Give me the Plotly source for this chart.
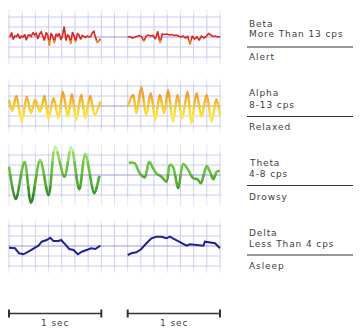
import numpy as np
import plotly.graph_objects as go

W, H = 363, 331

# ---- time base: two 1-second windows separated by a 2/7 s gap ----
GRID_STEP = 1 / 7
RIGHT_START = 9 / 7
X_END = RIGHT_START + 1

# ---- Beta (>13 cps), evenly sampled over each window ----
BETA_LEFT = [0.0, 0.45, -0.25, 0.1, 0.05, 0.3, -0.15, 0.1, 0.0, 0.25,
             -0.3, 0.15, 0.2, 0.05, 0.45, 0.2, 0.35, -0.2, 0.3, 0.5,
             0.1, -0.35, 0.45, 0.2, -0.9, 0.4, 0.05, -0.6, 0.3, 0.1,
             0.35, -0.3, 0.15, 1.05, -0.35, 0.2, 0.05, -0.7, 0.5, 0.1,
             -0.5, 0.35, 0.2, -0.25, 0.15, 0.05, -0.05, 0.1, 0.0, 0.05,
             0.4, 0.55, 0.1, -0.55, -0.45, -0.2]
BETA_RIGHT = [0.0, 0.05, -0.1, 0.0, 0.1, 0.15, 0.05, -0.45, 0.1, 0.2,
              0.1, 0.15, -0.2, 0.55, -0.6, 0.3, 0.25, 0.3, 0.2, 0.25,
              0.15, 0.2, 0.1, 0.0, 0.1, -0.1, 0.05, -0.75, 0.1, -0.2,
              0.0, -0.3, 0.1, -0.1, 0.05, 0.35, 0.2, 0.05, 0.1, 0.0, 0.05]

# ---- Alpha (8-13 cps) ----
ALPHA_LEFT_T = [0.0, 0.035, 0.08, 0.138, 0.192, 0.239, 0.283, 0.337, 0.384, 0.428,
                0.482, 0.536, 0.583, 0.638, 0.681, 0.728, 0.783, 0.826, 0.88, 0.928, 0.99]
ALPHA_LEFT_V = [0.6, -0.5, 1.0, -1.57, 0.93, -0.73, 0.6, -0.57, 1.0, -1.33,
                0.77, -1.23, 1.43, -1.07, 1.2, -1.4, 1.1, -1.23, 1.0, -0.9, 0.43]
ALPHA_RIGHT_T = [0.0, 0.058, 0.094, 0.148, 0.2, 0.25, 0.3, 0.348, 0.395, 0.438,
                 0.49, 0.54, 0.59, 0.648, 0.69, 0.746, 0.8, 0.855, 0.91, 0.96, 1.0]
ALPHA_RIGHT_V = [-0.07, 1.1, -0.73, 1.87, -0.9, 1.27, -1.4, 1.1, -0.73, 1.6,
                 -1.57, 1.1, -1.23, 1.43, -1.73, 1.27, -1.07, 1.1, -1.57, 0.67, -0.9]

# ---- Theta (4-8 cps) ----
THETA_LEFT_T = [0.0, 0.073, 0.167, 0.239, 0.337, 0.428, 0.5, 0.6, 0.674, 0.761,
                0.826, 0.924, 0.978]
THETA_LEFT_V = [0.83, -2.4, 1.33, -2.77, 1.5, -2.0, 2.83, -0.17, 2.77, -1.43,
                2.1, -1.83, -0.1]
THETA_RIGHT_T = [0.011, 0.076, 0.13, 0.185, 0.232, 0.275, 0.31, 0.366, 0.42, 0.457,
                 0.49, 0.547, 0.601, 0.656, 0.71, 0.757, 0.793, 0.855, 0.891, 0.928,
                 0.964, 1.0]
THETA_RIGHT_V = [1.23, 1.17, 0.17, -0.23, 1.33, 0.67, 0.17, -0.17, -0.67, 1.0,
                 0.83, -1.33, 1.1, 0.5, -0.33, -0.43, -0.83, 0.9, 0.33, -0.43,
                 0.33, 0.43]

# ---- Delta (<4 cps) ----
DELTA_LEFT_T = [0.0, 0.065, 0.109, 0.156, 0.21, 0.264, 0.319, 0.355, 0.409, 0.446,
                0.482, 0.536, 0.565, 0.609, 0.652, 0.699, 0.746, 0.79, 0.844, 0.891,
                0.935, 0.989]
DELTA_LEFT_V = [-0.17, -0.23, -0.73, -0.83, -0.57, -0.23, 0.03, 0.43, 0.6, 0.83,
                0.5, 0.5, 0.6, 0.17, -0.3, -0.4, -0.83, -0.57, -0.4, -0.23,
                -0.3, 0.03]
DELTA_RIGHT_T = [0.0, 0.04, 0.094, 0.148, 0.203, 0.257, 0.31, 0.366, 0.42, 0.457,
                 0.49, 0.547, 0.601, 0.638, 0.674, 0.728, 0.783, 0.82, 0.837, 0.891,
                 0.946, 1.0]
DELTA_RIGHT_V = [-0.9, -0.73, -0.63, -0.3, 0.27, 0.77, 0.93, 0.93, 0.77, 0.93,
                 0.77, 0.5, 0.27, 0.03, 0.17, 0.1, 0.03, 0.03, 0.43, 0.37,
                 0.27, -0.23]

# ---- labels ----
WAVE_NAMES = ["Beta", "Alpha", "Theta", "Delta"]
WAVE_FREQS = ["More Than 13 cps", "8-13 cps", "4-8 cps", "Less Than 4 cps"]
WAVE_STATES = ["Alert", "Relaxed", "Drowsy", "Asleep"]
SCALE_LABEL = "1 sec"

# ---- grid ----
GRID_X = [k * GRID_STEP for k in range(17)]
GRID_Y = [-2, -1, 0, 1, 2]

# ---- geometry (pixels) ----
X_LEFT_PX, X_RIGHT_PX = 9, 220
PX_PER_SEC = (X_RIGHT_PX - X_LEFT_PX) / X_END
UNIT_PX = 10
PAD = 0.01
X_RANGE = [-PAD, X_END + PAD]
X_DOMAIN = [(X_LEFT_PX - PAD * PX_PER_SEC) / W, (X_RIGHT_PX + PAD * PX_PER_SEC) / W]

GRID_COLOR = "#cbccf3"
GRID_FADE = "#e6e6f9"
CENTER_COLOR = "#9a9ae6"


def even_t(n):
    return list(np.linspace(0.01, 0.99, n))


panels = [
    dict(center=37, half=2.7, width=1.6, shape="linear",
         segs=[(even_t(len(BETA_LEFT)), BETA_LEFT),
               (list(np.linspace(0.0, 1.0, len(BETA_RIGHT))), BETA_RIGHT)],
         bands=[(0.6, 9, "#a8421e"), (-0.35, 0.6, "#e2241b"), (-9, -0.35, "#f0801e")]),
    dict(center=106, half=2.7, width=2.4, shape="spline",
         segs=[(ALPHA_LEFT_T, ALPHA_LEFT_V), (ALPHA_RIGHT_T, ALPHA_RIGHT_V)],
         bands=[(0.8, 9, "#f1a032"), (0.3, 0.8, "#f5b42e"), (-0.3, 0.3, "#f7c82c"),
                (-0.9, -0.3, "#f8da30"), (-9, -0.9, "#f9e84c")]),
    dict(center=175, half=3.1, width=2.6, shape="spline",
         segs=[(THETA_LEFT_T, THETA_LEFT_V), (THETA_RIGHT_T, THETA_RIGHT_V)],
         bands=[(2.3, 9, "#c6ecaa"), (1.3, 2.3, "#92d660"), (0.0, 1.3, "#6cc23e"),
                (-1.2, 0.0, "#54ad2e"), (-2.0, -1.2, "#3f9a24"), (-9, -2.0, "#2f861a")]),
    dict(center=246, half=2.7, width=2.0, shape="linear",
         segs=[(DELTA_LEFT_T, DELTA_LEFT_V), (DELTA_RIGHT_T, DELTA_RIGHT_V)],
         bands=[(-9, 9, "#1f2296")]),
]

layout = dict(width=W, height=H, margin=dict(l=0, r=0, t=0, b=0),
              paper_bgcolor="white", plot_bgcolor="rgba(0,0,0,0)",
              showlegend=False, shapes=[], annotations=[])
traces = []
axis_count = [0]


def new_axes(top_px, bottom_px):
    axis_count[0] += 1
    i = axis_count[0]
    sx = "" if i == 1 else str(i)
    hidden = dict(fixedrange=True, showticklabels=False, ticks="", zeroline=False,
                  showline=False, showgrid=False)
    layout["xaxis" + sx] = dict(domain=X_DOMAIN, range=X_RANGE, anchor="y" + sx, **hidden)
    layout["yaxis" + sx] = dict(domain=[1 - bottom_px / H, 1 - top_px / H],
                                anchor="x" + sx, **hidden)
    return "x" + sx, "y" + sx, layout["yaxis" + sx]


def grid_line(xr, yr, x0, x1, y0, y1, color):
    layout["shapes"].append(dict(type="line", layer="below", xref=xr, yref=yr,
                                 x0=x0, x1=x1, y0=y0, y1=y1,
                                 line=dict(color=color, width=1)))


main_axes = []
for p in panels:
    c, hf = p["center"], p["half"]
    xa, ya, yax = new_axes(c - hf * UNIT_PX, c + hf * UNIT_PX)
    yax["range"] = [-hf, hf]
    main_axes.append(xa)

    # chart-paper grid: vertical rules fade out past the outer horizontals
    core = 2.2
    for gx in GRID_X:
        grid_line(xa, ya, gx, gx, -core, core, GRID_COLOR)
        grid_line(xa, ya, gx, gx, core, hf, GRID_FADE)
        grid_line(xa, ya, gx, gx, -hf, -core, GRID_FADE)
    for gy in GRID_Y:
        grid_line(xa, ya, X_RANGE[0], X_RANGE[1], gy, gy,
                  CENTER_COLOR if gy == 0 else GRID_COLOR)

    # colour bands: the same trace is drawn in horizontal slices of the panel
    for lo, hi, color in p["bands"]:
        lo, hi = max(lo, -hf), min(hi, hf)
        btop = c - hi * UNIT_PX - 0.5
        bbot = c - lo * UNIT_PX + 0.5
        bx, by, byax = new_axes(btop, bbot)
        byax["range"] = [(c - bbot) / UNIT_PX, (c - btop) / UNIT_PX]
        for k, (t, v) in enumerate(p["segs"]):
            x = [ti + (RIGHT_START if k == 1 else 0.0) for ti in t]
            traces.append(go.Scatter(
                x=x, y=v, mode="lines", xaxis=bx, yaxis=by, hoverinfo="skip",
                line=dict(color=color, width=p["width"], shape=p["shape"], smoothing=0.9)))

# ---- right-hand labels ----
TEXT_X = 247 / W
FONT = dict(family="DejaVu Sans", size=9, color="#404040")


def spaced(txt):
    return '<span style="letter-spacing:0.9px">' + txt + "</span>"


label_rows = [(24, 34.5, 47, 57), (93, 104.5, 116.5, 126.5),
              (162.5, 174, 185.5, 196.5), (232.5, 243.5, 255, 266)]
for name, freq, state, (yn, yf, yl, ys) in zip(WAVE_NAMES, WAVE_FREQS, WAVE_STATES, label_rows):
    for txt, ypx in ((name, yn), (freq, yf), (state, ys)):
        layout["annotations"].append(dict(
            text=spaced(txt), x=TEXT_X, y=1 - ypx / H, xref="paper", yref="paper",
            xanchor="left", yanchor="middle", showarrow=False, font=FONT))
    layout["shapes"].append(dict(
        type="line", xref="paper", yref="paper", x0=TEXT_X, x1=353 / W,
        y0=1 - yl / H, y1=1 - yl / H, line=dict(color="#333333", width=1.2)))

# ---- 1-second scale bars ----
bar_x = main_axes[-1]
BAR_Y, TICK_TOP, TICK_BOT, LABEL_Y = 313.5, 309.5, 317.5, 322.5
for start in (0.0, RIGHT_START):
    layout["shapes"].append(dict(type="line", xref=bar_x, yref="paper",
                                 x0=start, x1=start + 1, y0=1 - BAR_Y / H, y1=1 - BAR_Y / H,
                                 line=dict(color="#333333", width=1.3)))
    for xe in (start, start + 1):
        layout["shapes"].append(dict(type="line", xref=bar_x, yref="paper",
                                     x0=xe, x1=xe, y0=1 - TICK_BOT / H, y1=1 - TICK_TOP / H,
                                     line=dict(color="#333333", width=2)))
    layout["annotations"].append(dict(
        text=spaced(SCALE_LABEL), x=start + 0.5, y=1 - LABEL_Y / H, xref=bar_x, yref="paper",
        xanchor="center", yanchor="middle", showarrow=False, font=FONT))

fig = go.Figure(data=traces, layout=layout)
fig.write_html("out.html")
